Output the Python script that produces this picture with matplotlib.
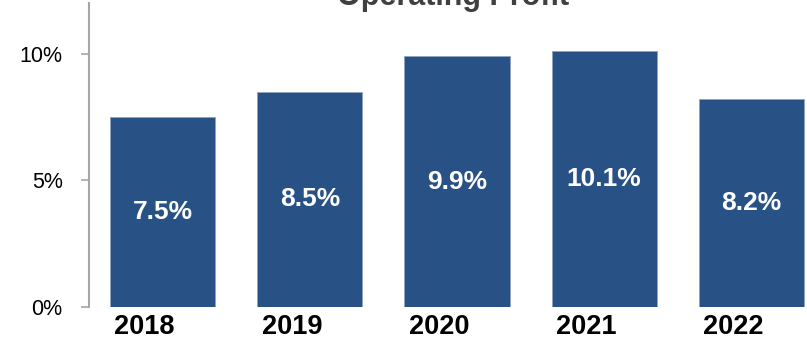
#!/usr/bin/env python3
"""Operating profit margin by year, bar chart."""

import matplotlib
matplotlib.use("Agg")
import matplotlib.pyplot as plt
import matplotlib.transforms as mtransforms
from matplotlib.ticker import FuncFormatter

plt.rcParams["font.family"] = ["Liberation Sans", "DejaVu Sans"]

years = ["2018", "2019", "2020", "2021", "2022"]
margins = [7.5, 8.5, 9.9, 10.1, 8.2]
y_ticks = [0, 5, 10]

BAR_COLOR = "#285186"
AXIS_COLOR = "#a6a6a6"

W, H = 807, 339
fig = plt.figure(figsize=(W / 100, H / 100), dpi=100)

# axes runs past the right edge, the last bar is clipped like in the source
ax = fig.add_axes([89 / W, 32 / H, (825 - 89) / W, (307 - 3) / H])

x = list(range(len(years)))
bars = ax.bar(x, margins, width=0.714, color=BAR_COLOR,
              edgecolor="#8fa3bf", linewidth=0.6)

for xi, v in zip(x, margins):
    ax.text(xi, v / 2, f"{v:.1f}%", ha="center", va="center",
            fontsize=19, fontweight="bold", color="white")

ax.set_xlim(-0.5, len(years) - 0.5)
ax.set_ylim(0, 12)

ax.set_yticks(y_ticks)
ax.yaxis.set_major_formatter(FuncFormatter(lambda v, _: f"{v:.0f}%"))
ax.tick_params(axis="y", length=6, width=1.2, color=AXIS_COLOR,
               labelsize=15.5, pad=13)

ax.set_xticks(x)
ax.set_xticklabels(years, fontsize=19.5, fontweight="bold")
ax.tick_params(axis="x", length=0, pad=5)
shift = mtransforms.ScaledTranslation(-18 / 100, 0, fig.dpi_scale_trans)
for lab in ax.get_xticklabels():
    lab.set_transform(lab.get_transform() + shift)

for side in ["top", "right", "bottom"]:
    ax.spines[side].set_visible(False)
ax.spines["left"].set_color(AXIS_COLOR)
ax.spines["left"].set_linewidth(1.5)

fig.text(453 / W, 1 - 5 / H, "Operating Profit", ha="center", va="baseline",
         fontsize=22, fontweight="bold", color="#404040")

fig.savefig("out.png", dpi=100)
plt.close(fig)
